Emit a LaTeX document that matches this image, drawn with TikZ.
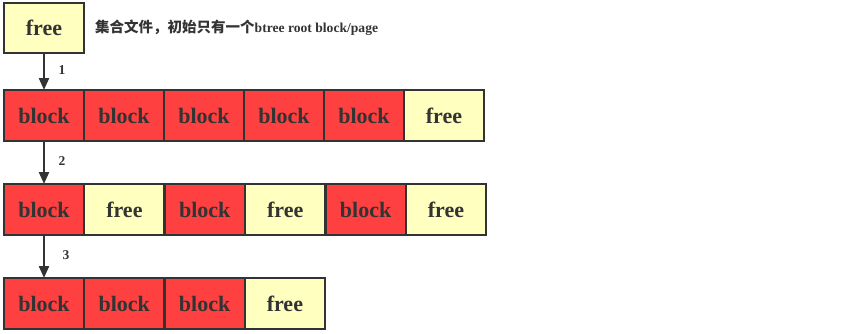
\documentclass[tikz,border=0pt]{standalone}
\usepackage{fontspec}
\setmainfont{Liberation Serif}
\newfontfamily\cjk{Noto Sans CJK SC}
\usetikzlibrary{arrows.meta}
\definecolor{blk}{HTML}{FF4040}
\definecolor{fre}{HTML}{FFFFC0}
\definecolor{ink}{HTML}{333333}
\tikzset{
  cell/.style={draw=ink, line width=2pt, minimum width=80pt, minimum height=51pt, inner sep=0pt, outer sep=0pt, text=ink, font=\fontsize{22}{24}\selectfont\bfseries, anchor=north west},
  blkcell/.style={cell, fill=blk},
  frecell/.style={cell, fill=fre},
  conn/.style={draw=ink, line width=2.2pt, -{Triangle[length=12pt,width=10pt]}},
  lbl/.style={text=ink, font=\fontsize{13.5}{15}\selectfont\bfseries, inner sep=0pt}
}
\begin{document}
\begin{tikzpicture}[x=1pt,y=-1pt]
\useasboundingbox (0,0) rectangle (850,333);
% top
\node[frecell, minimum height=50pt] (t) at (4,3) {free};
\node[lbl, anchor=west] (note) at (95,28) {{\cjk\bfseries\fontsize{14.5}{16}\selectfont 集合文件，初始只有一个}\fontsize{13.6}{16}\selectfont btree root block/page};
% row 1
\node[blkcell] (a1) at (4,90) {block};
\node[blkcell] (a2) at (84,90) {block};
\node[blkcell] (a3) at (164,90) {block};
\node[blkcell] (a4) at (244,90) {block};
\node[blkcell] (a5) at (324,90) {block};
\node[frecell] (a6) at (404,90) {free};
% row 2
\node[blkcell] (b1) at (4,184) {block};
\node[frecell] (b2) at (84.4,184) {free};
\node[blkcell] (b3) at (164.8,184) {block};
\node[frecell] (b4) at (245.2,184) {free};
\node[blkcell] (b5) at (325.6,184) {block};
\node[frecell] (b6) at (406,184) {free};
% row 3
\node[blkcell] (c1) at (4,278) {block};
\node[blkcell] (c2) at (84.3,278) {block};
\node[blkcell] (c3) at (164.6,278) {block};
\node[frecell] (c4) at (244.9,278) {free};
% arrows
\draw[conn] (t.south) -- (a1.north);
\draw[conn] (a1.south) -- (b1.north);
\draw[conn] (b1.south) -- (c1.north);
\node[lbl] (n1) at (62,70) {1};
\node[lbl] (n2) at (62,161) {2};
\node[lbl] (n3) at (66,255) {3};
\end{tikzpicture}
\end{document}
